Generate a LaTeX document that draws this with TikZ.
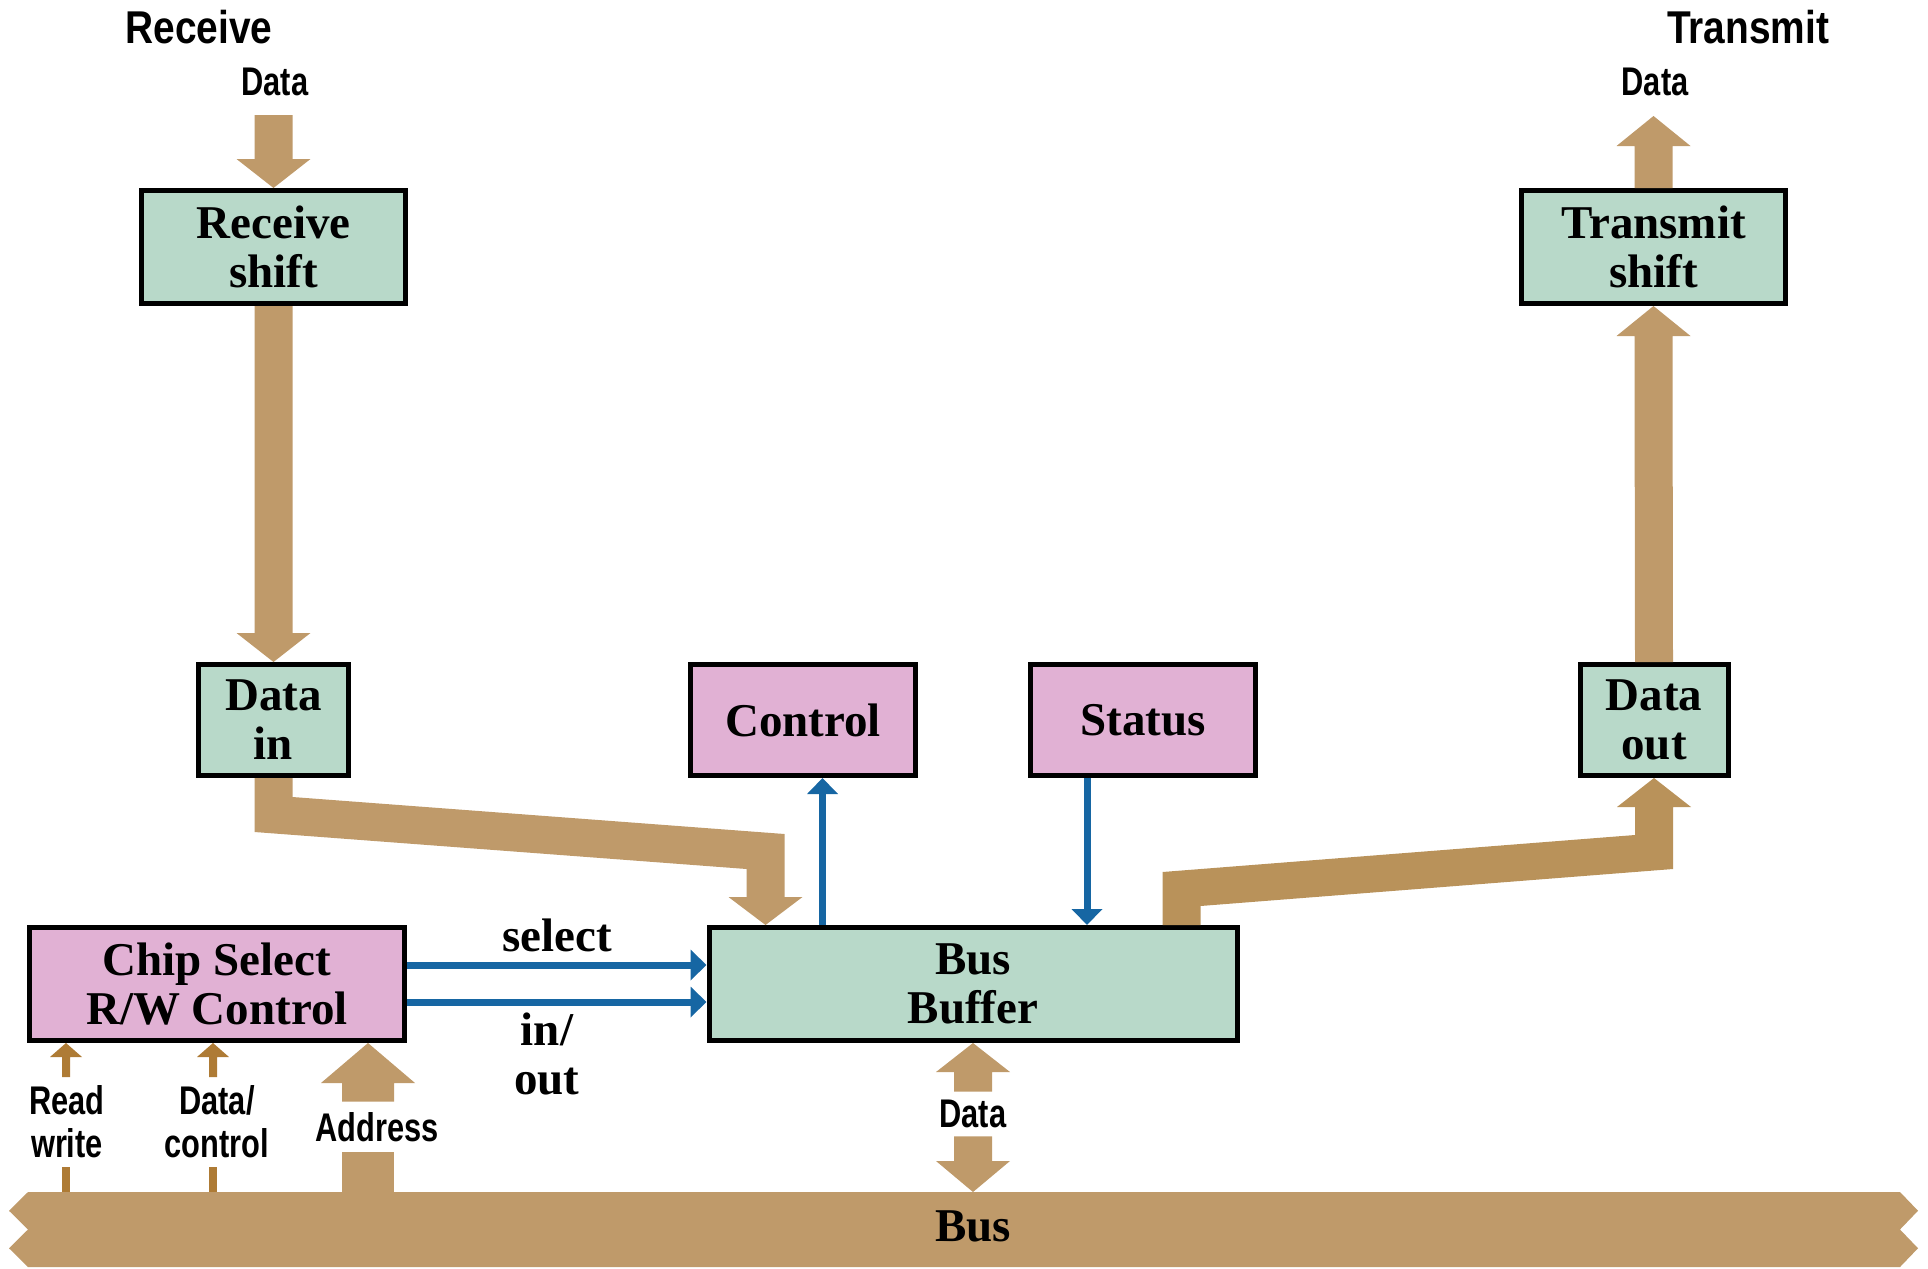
\documentclass[tikz,border=0pt]{standalone}
\usepackage{fontspec}
\setmainfont{Liberation Serif}
\newfontfamily\headsans[FakeStretch=0.845]{Liberation Sans}
\newfontfamily\tagsans[FakeStretch=0.77]{Liberation Sans}
\usetikzlibrary{calc,arrows.meta}

\definecolor{boxgreen}{RGB}{184,217,201}
\definecolor{boxpink}{RGB}{225,177,212}
\definecolor{bustan}{RGB}{191,154,106}
\definecolor{outtan}{RGB}{185,146,90}
\definecolor{wiretan}{RGB}{174,123,53}
\definecolor{sigblue}{RGB}{22,102,163}

\tikzset{
  unit/.style={draw=black, line width=2.5pt, inner sep=0pt,
    font=\fontsize{23.5}{24.5}\selectfont\bfseries, align=center},
  greenunit/.style={unit, fill=boxgreen},
  pinkunit/.style={unit, fill=boxpink},
  serifnote/.style={inner sep=0pt, font=\fontsize{23.5}{24.5}\selectfont\bfseries, align=center},
  headnote/.style={inner sep=0pt, font=\headsans\fontsize{23}{24}\selectfont\bfseries},
  tagnote/.style={inner sep=0pt, font=\tagsans\fontsize{20}{21.5}\selectfont\bfseries, align=center},
  fatpath/.style={fill=bustan},
  signal/.style={draw=sigblue, line width=3.5pt, -{Triangle[length=8pt,width=15pt]}},
}

\begin{document}
\begin{tikzpicture}[x=0.5pt,y=-0.5pt]
\useasboundingbox (0,0) rectangle (1928,1269);

% ---------- register boxes ----------
\node[greenunit, minimum width=132pt, minimum height=56.5pt] (rshift) at (273.5,247) {Receive\\shift};
\node[greenunit, minimum width=132pt, minimum height=56.5pt] (tshift) at (1653.5,247) {Transmit\\shift};
\node[greenunit, minimum width=75pt, minimum height=55.5pt] (datain) at (273.5,720) {Data\\in};
\node[greenunit, minimum width=74pt, minimum height=55.5pt] (dataout) at (1654,720) {Data\\out};
\node[pinkunit, minimum width=112.5pt, minimum height=55.5pt] (control) at (803,720) {Control};
\node[pinkunit, minimum width=112.5pt, minimum height=55.5pt] (status) at (1143,720) {Status};
\node[greenunit, minimum width=264pt, minimum height=56.5pt] (busbuf) at (973,984) {Bus\\Buffer};
\node[pinkunit, minimum width=187.5pt, minimum height=56.5pt] (chip) at (217,984) {Chip Select\\R/W Control};

% ---------- system bus ----------
\node[minimum width=936pt, minimum height=37.5pt, inner sep=0pt, outer sep=0pt] (bus) at (964,1229.5) {};
\fill[bustan] (bus.north west) -- (bus.north east)
  -- ($(bus.north east)+(18,18.75)$) -- ($(bus.north east)+(0,37.5)$)
  -- ($(bus.north east)+(18,56.25)$) -- (bus.south east)
  -- (bus.south west) -- ($(bus.north west)+(-19,56.25)$)
  -- ($(bus.north west)+(0,37.5)$) -- ($(bus.north west)+(-19,18.75)$) -- cycle;
\node[serifnote] (buslabel) at (973,1226) {Bus};

% ---------- outside labels ----------
\node[headnote] (rxtitle) at (199,27) {Receive};
\node[headnote] (txtitle) at (1748,27) {Transmit};
\node[tagnote] (rxdata) at (275,82) {Data};
\node[tagnote] (txdata) at (1655,82) {Data};

% ---------- receive path ----------
\coordinate (rxin) at (273.5,115);
\fill[fatpath] ($(rxin)+(-19,0)$) -- ($(rxin)+(19,0)$) -- ($(rshift.north)+(19,-29)$)
  -- ($(rshift.north)+(37,-29)$) -- (rshift.north) -- ($(rshift.north)+(-37,-29)$)
  -- ($(rshift.north)+(-19,-29)$) -- cycle;
\fill[fatpath] ($(rshift.south)+(-19,0)$) -- ($(rshift.south)+(19,0)$) -- ($(datain.north)+(19,-29)$)
  -- ($(datain.north)+(37,-29)$) -- (datain.north) -- ($(datain.north)+(-37,-29)$)
  -- ($(datain.north)+(-19,-29)$) -- cycle;
\coordinate (dintip) at ($(busbuf.north west)+(59,0)$);
\fill[fatpath] ($(datain.south)+(-19,0)$) -- ($(datain.south)+(19,0)$)
  -- ($(datain.south)+(19,19)$) -- ($(dintip)+(19,-91)$) -- ($(dintip)+(19,-28)$)
  -- ($(dintip)+(37,-28)$) -- (dintip) -- ($(dintip)+(-37,-28)$) -- ($(dintip)+(-19,-28)$)
  -- ($(dintip)+(-19,-56)$) -- ($(datain.south)+(-19,54)$) -- cycle;

% ---------- transmit path ----------
\coordinate (dobase) at ($(busbuf.north west)+(475,0)$);
\fill[outtan] ($(dobase)+(-19,0)$) -- ($(dobase)+(-19,-53)$) -- ($(dataout.south)+(-19,57)$)
  -- ($(dataout.south)+(-19,29)$) -- ($(dataout.south)+(-37,29)$) -- (dataout.south)
  -- ($(dataout.south)+(37,29)$) -- ($(dataout.south)+(19,29)$) -- ($(dataout.south)+(19,91)$)
  -- ($(dobase)+(19,-19)$) -- ($(dobase)+(19,0)$) -- cycle;
\fill[fatpath] ($(dataout.north)+(-19,0)$) -- ($(dataout.north)+(19,0)$) -- ($(tshift.south)+(19,30)$)
  -- ($(tshift.south)+(37,30)$) -- (tshift.south) -- ($(tshift.south)+(-37,30)$)
  -- ($(tshift.south)+(-19,30)$) -- cycle;
\coordinate (txout) at (1653.5,116);
\fill[fatpath] ($(tshift.north)+(-19,0)$) -- ($(tshift.north)+(19,0)$) -- ($(txout)+(19,30)$)
  -- ($(txout)+(37,30)$) -- (txout) -- ($(txout)+(-37,30)$) -- ($(txout)+(-19,30)$) -- cycle;

% ---------- bus buffer <-> bus ----------
\node[tagnote, minimum height=22pt] (bdata) at (973,1114) {Data};
\coordinate (bustip) at (busbuf.south |- bus.north);
\fill[fatpath] (busbuf.south) -- ($(busbuf.south)+(37,29)$) -- ($(busbuf.south)+(19,29)$)
  -- ($(busbuf.south |- bdata.north)+(19,0)$) -- ($(busbuf.south |- bdata.north)+(-19,0)$)
  -- ($(busbuf.south)+(-19,29)$) -- ($(busbuf.south)+(-37,29)$) -- cycle;
\fill[fatpath] ($(busbuf.south |- bdata.south)+(-19,0)$) -- ($(busbuf.south |- bdata.south)+(19,0)$)
  -- ($(bustip)+(19,-31)$) -- ($(bustip)+(37,-31)$) -- (bustip) -- ($(bustip)+(-37,-31)$)
  -- ($(bustip)+(-19,-31)$) -- cycle;

% ---------- bus -> chip select ----------
\coordinate (addrtip) at ($(chip.south west)+(341,0)$);
\node[tagnote, minimum height=25pt] (addrlbl) at (377,1127) {Address};
\fill[fatpath] (addrtip) -- ($(addrtip)+(47,40)$) -- ($(addrtip)+(26,40)$)
  -- ($(addrtip |- addrlbl.north)+(26,0)$) -- ($(addrtip |- addrlbl.north)+(-26,0)$)
  -- ($(addrtip)+(-26,40)$) -- ($(addrtip)+(-47,40)$) -- cycle;
\fill[fatpath] ($(addrtip |- addrlbl.south)+(-26,0)$) rectangle ($(addrtip |- bus.north)+(26,0)$);

\coordinate (rwtip) at ($(chip.south west)+(39,0)$);
\node[tagnote, minimum height=44.5pt] (rwlbl) at (67,1122) {Read\\write};
\fill[wiretan] (rwtip) -- ($(rwtip)+(16,14)$) -- ($(rwtip)+(4,14)$)
  -- ($(rwtip |- rwlbl.north)+(4,0)$) -- ($(rwtip |- rwlbl.north)+(-4,0)$)
  -- ($(rwtip)+(-4,14)$) -- ($(rwtip)+(-16,14)$) -- cycle;
\fill[wiretan] ($(rwtip |- rwlbl.south)+(-4,0)$) rectangle ($(rwtip |- bus.north)+(4,0)$);

\coordinate (dctip) at ($(chip.south west)+(186,0)$);
\node[tagnote, minimum height=44.5pt] (dclbl) at (217,1122) {Data/\\control};
\fill[wiretan] (dctip) -- ($(dctip)+(16,14)$) -- ($(dctip)+(4,14)$)
  -- ($(dctip |- dclbl.north)+(4,0)$) -- ($(dctip |- dclbl.north)+(-4,0)$)
  -- ($(dctip)+(-4,14)$) -- ($(dctip)+(-16,14)$) -- cycle;
\fill[wiretan] ($(dctip |- dclbl.south)+(-4,0)$) rectangle ($(dctip |- bus.north)+(4,0)$);

% ---------- control signals ----------
\coordinate (selsrc) at ($(chip.east)+(0,-19)$);
\coordinate (iosrc) at ($(chip.east)+(0,18)$);
\draw[signal] (selsrc) -- (selsrc -| busbuf.west);
\draw[signal] (iosrc) -- (iosrc -| busbuf.west);
\node[serifnote] (sellbl) at (557,935) {select};
\node[serifnote] (iolbl) at (547,1054) {in/\\out};

\coordinate (ctlsrc) at ($(busbuf.north west)+(116,0)$);
\draw[signal] (ctlsrc) -- (ctlsrc |- control.south);
\coordinate (stsrc) at ($(status.south west)+(59,0)$);
\draw[signal] (stsrc) -- (stsrc |- busbuf.north);
\end{tikzpicture}
\end{document}
